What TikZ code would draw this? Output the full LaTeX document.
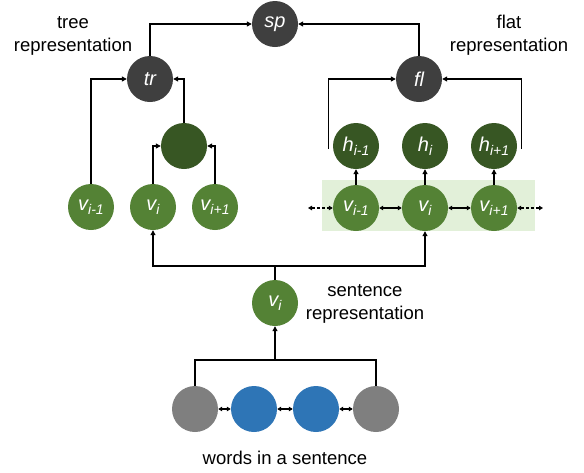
\documentclass[tikz,border=0pt]{standalone}
\usepackage{fontspec}
\setmainfont{Liberation Sans}
\usetikzlibrary{arrows.meta}
\definecolor{dgray}{HTML}{3F3F3F}
\definecolor{gr}{HTML}{548235}
\definecolor{dgr}{HTML}{375623}
\definecolor{bl}{HTML}{2E75B6}
\definecolor{gy}{HTML}{7F7F7F}
\definecolor{lgr}{HTML}{E2F0D9}
\tikzset{
  circ/.style={circle, minimum size=46pt, inner sep=0pt, text=white, font=\fontsize{20}{20}\selectfont\itshape},
  dgnode/.style={circ, fill=dgray},
  gnode/.style={circ, fill=gr},
  dgrnode/.style={circ, fill=dgr},
  bnode/.style={circ, fill=bl},
  gynode/.style={circ, fill=gy},
  lbl/.style={align=center, font=\fontsize{18.5}{23}\selectfont},
  conn/.style={line width=1.1pt, -{Triangle[length=5pt,width=5pt]}},
  plain/.style={line width=1.1pt},
  bi/.style={line width=1.1pt, {Triangle[length=4pt,width=4.5pt]}-{Triangle[length=4pt,width=4.5pt]}},
  bid/.style={bi, dashed, dash pattern=on 3pt off 2pt},
}
\newcommand{\mysub}[1]{\raisebox{-0.22em}{\fontsize{14}{14}\selectfont #1}}
\newcommand{\vv}[1]{v\mysub{#1}}
\newcommand{\hh}[1]{h\mysub{#1}}
\begin{document}
\begin{tikzpicture}[x=1pt, y=-1pt]
\useasboundingbox (0,0) rectangle (584,472);
\fill[lgr] (322,180) rectangle (535,231);
% nodes
\node[dgnode] (sp) at (275,24) {sp};
\node[dgnode] (tr) at (150,79) {tr};
\node[dgnode] (fl) at (419,79) {fl};
\node[dgrnode] (tc) at (184,146) {};
\node[gnode] (a1) at (91,207) {\vv{i-1}};
\node[gnode] (a2) at (153,207) {\vv{i}};
\node[gnode] (a3) at (215,207) {\vv{i+1}};
\node[dgrnode] (h1) at (356,146) {\hh{i-1}};
\node[dgrnode] (h2) at (425,146) {\hh{i}};
\node[dgrnode] (h3) at (494,146) {\hh{i+1}};
\node[gnode] (b1) at (356,208) {\vv{i-1}};
\node[gnode] (b2) at (425,208) {\vv{i}};
\node[gnode] (b3) at (494,208) {\vv{i+1}};
\node[gnode] (s) at (275,303) {\vv{i}};
\node[gynode] (w1) at (195,409) {};
\node[bnode] (w2) at (254,409) {};
\node[bnode] (w3) at (316,409) {};
\node[gynode] (w4) at (376,409) {};
% labels
\node[lbl] (ltree) at (73,35.5) {tree\\representation};
\node[lbl] (lflat) at (509,35.5) {flat\\representation};
\node[lbl] (lsent) at (365,303.5) {sentence\\representation};
\node[lbl] (lwords) at (285,458) {words in a sentence};
% coordinates
\coordinate (dl) at (308,208);
\coordinate (dr) at (543,208);
\coordinate (br) at (275,266);
\coordinate (wj) at (275,360);
% connectors
\draw[conn] (tr.north) |- (sp.west);
\draw[conn] (fl.north) |- (sp.east);
\draw[conn] (a1.north) |- (tr.west);
\draw[conn] (tc.north) |- (tr.east);
\draw[conn] (a2.north) |- (tc.west);
\draw[conn] (a3.north) |- (tc.east);
\draw[conn] ([xshift=-4pt,yshift=-3pt]h1.west) |- (fl.west);
\draw[conn] ([xshift=4pt,yshift=-3pt]h3.east) |- (fl.east);
\draw[conn] (b1.north) -- (h1.south);
\draw[conn] (b2.north) -- (h2.south);
\draw[conn] (b3.north) -- (h3.south);
\draw[bi] (b1.east) -- (b2.west);
\draw[bi] (b2.east) -- (b3.west);
\draw[bid] (dl) -- (b1.west);
\draw[bid] (b3.east) -- (dr);
\draw[plain] (s.north) -- (br);
\draw[conn] (br) -| (a2.south);
\draw[conn] (br) -| (b2.south);
\draw[plain] (w1.north) |- (wj) -| (w4.north);
\draw[conn] (wj) -- (s.south);
\draw[bi] (w1.east) -- (w2.west);
\draw[bi] (w2.east) -- (w3.west);
\draw[bi] (w3.east) -- (w4.west);
\end{tikzpicture}
\end{document}
